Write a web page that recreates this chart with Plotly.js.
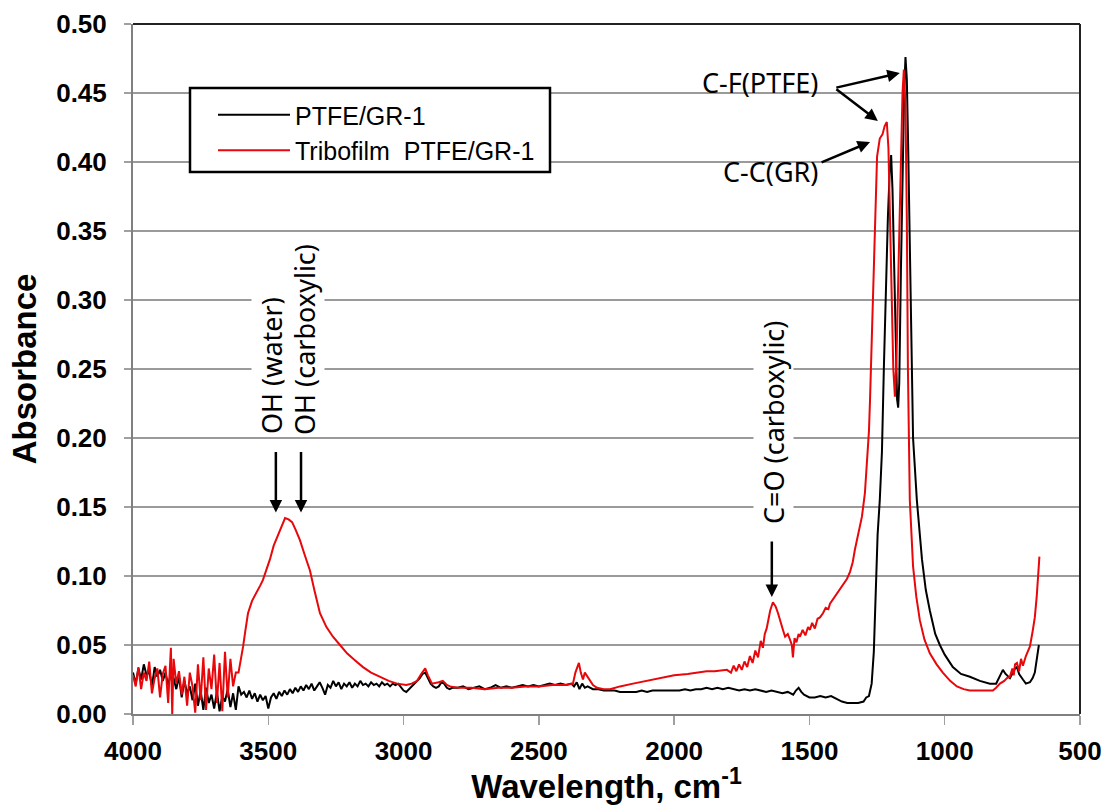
<!DOCTYPE html>
<html>
<head>
<meta charset="utf-8">
<script src="https://cdn.plot.ly/plotly-3.0.1.min.js"></script>
<style>html,body{margin:0;padding:0;background:#fff;}#chart{width:1113px;height:805px;}</style>
</head>
<body>
<div id="chart"></div>
<script>
// ---- Data (wavenumber cm-1, absorbance) ----
const ptfeX = [4000,3990,3980,3970,3960,3950,3940,3930,3920,3910,3900,3890,3880,3870,3860,3850,3840,3830,3820,3810,3800,3790,3780,3770,3760,3750,3740,3730,3720,3710,3700,3690,3680,3670,3660,3650,3640,3630,3620,3610,3600,
3590,3580,3570,3560,3550,3540,3530,3520,3510,3500,3490,3480,3470,3460,3450,3440,3430,3420,3410,3400,3390,3380,3370,3360,3350,3340,3330,3320,3310,3300,3290,3280,3270,3260,3250,3240,3230,3220,3210,3200,3190,3180,3170,3160,3150,3140,3130,3120,3110,3100,3090,3080,3070,3060,3050,3040,3030,3020,3010,3000,
2990,2980,2970,2960,2950,2940,2930,2920,2910,2900,2890,2880,2870,2860,2850,2840,2830,2820,2800,2780,2760,2740,2720,2700,2680,2660,2640,2620,2600,2580,2560,2540,2520,2500,2480,2460,2440,2420,2400,2380,2370,2360,2350,2340,2330,2320,2300,2280,2260,2240,2220,2200,2180,2160,2140,2120,2100,2080,2060,2040,2020,2000,1980,1960,1940,1920,1900,1880,1860,1840,1820,1800,1780,1760,1740,1720,1700,1680,1660,1640,1620,1600,1580,1560,1550,1540,1530,1520,1500,1480,1460,1440,1420,1400,1380,1360,1340,1320,1300,1290,1280,1270,
1262,1255,1248,1240,1232,1225,1218,1210,1203,1198,1193,1188,1182,1176,1172,1168,1162,1156,1150,1145,1140,1135,1129,1122,1117,1103,1084,1070,1055,1035,1018,1000,985,970,940,907,870,833,810,795,785,775,765,759,748,740,733,725,711,700,685,675,667,660,652];
const ptfeY = [0.030,0.022,0.033,0.025,0.036,0.028,0.031,0.020,0.034,0.027,0.032,0.024,0.030,0.021,0.029,0.026,0.018,0.027,0.012,0.024,0.015,0.020,0.010,0.022,0.006,0.017,0.003,0.019,0.008,0.014,0.004,0.016,0.002,0.013,0.009,0.018,0.005,0.015,0.003,0.020,0.014,
0.016,0.012,0.017,0.011,0.015,0.009,0.014,0.010,0.013,0.004,0.012,0.015,0.011,0.016,0.013,0.017,0.014,0.018,0.015,0.019,0.016,0.020,0.017,0.021,0.018,0.022,0.017,0.020,0.023,0.019,0.014,0.021,0.019,0.024,0.020,0.023,0.018,0.022,0.020,0.023,0.019,0.022,0.020,0.024,0.021,0.022,0.020,0.023,0.021,0.022,0.020,0.023,0.021,0.022,0.020,0.022,0.021,0.022,0.019,0.017,
0.016,0.018,0.020,0.022,0.024,0.026,0.029,0.030,0.026,0.022,0.020,0.019,0.020,0.023,0.022,0.019,0.018,0.019,0.019,0.020,0.018,0.019,0.020,0.018,0.019,0.021,0.019,0.020,0.019,0.020,0.021,0.020,0.021,0.020,0.021,0.022,0.021,0.022,0.021,0.022,0.020,0.023,0.018,0.022,0.019,0.020,0.018,0.018,0.017,0.017,0.017,0.016,0.016,0.016,0.016,0.017,0.016,0.017,0.017,0.017,0.017,0.017,0.017,0.018,0.017,0.018,0.018,0.019,0.018,0.019,0.018,0.019,0.018,0.017,0.018,0.017,0.018,0.017,0.016,0.017,0.016,0.015,0.016,0.014,0.017,0.019,0.016,0.014,0.012,0.012,0.013,0.012,0.013,0.011,0.009,0.008,0.008,0.008,0.009,0.012,0.013,0.022,
0.045,0.090,0.130,0.155,0.190,0.250,0.310,0.360,0.395,0.405,0.380,0.330,0.270,0.228,0.222,0.240,0.320,0.400,0.450,0.476,0.460,0.410,0.340,0.250,0.200,0.155,0.112,0.090,0.075,0.058,0.050,0.043,0.038,0.034,0.029,0.027,0.024,0.022,0.022,0.028,0.032,0.029,0.027,0.026,0.030,0.033,0.034,0.029,0.025,0.022,0.023,0.026,0.030,0.040,0.050];

const triboX = [4000,3990,3980,3970,3960,3950,3940,3930,3920,3910,3900,3890,3880,3870,3860,3855,3850,3840,3830,3820,3810,3800,3790,3780,3770,3760,3750,3740,3730,3720,3710,3700,3690,3680,3670,3660,3650,3640,3630,3620,3610,3600,3593,3585,3575,3560,3542,3530,3520,3505,3494,3480,3464,3450,3438,3425,3412,3400,3383,3365,3346,3330,3309,3285,3261,3235,3209,3180,3150,3120,3087,3055,3024,2990,2970,2950,2935,2920,2910,2895,2870,2855,2840,2828,2800,2750,2700,2650,2600,2550,2500,2450,2400,2374,2365,2352,2345,2337,2330,2320,2300,2285,2260,2237,2200,2152,2100,2050,2027,2000,1950,1905,1880,1850,1805,1790,1780,1770,1760,1750,1740,1730,1720,1710,1700,1690,1680,1672,1665,1658,1653,1645,1635,1625,1616,1607,1598,1590,1580,1572,1565,1561,1555,1548,1540,1535,1525,1515,1505,1498,1490,1480,1470,1461,1450,1440,1430,1424,1410,1400,1387,1375,1361,1350,1340,1332,1320,1306,1295,1288,1280,1276,1270,1265,1258,1250,1240,1230,1222,1214,1208,1203,1197,1190,1184,1178,1170,1162,1156,1151,1145,1140,1136,1129,1117,1105,1092,1075,1055,1030,1007,980,955,930,907,880,850,822,810,796,780,770,759,750,745,740,733,725,718,711,700,685,675,667,660,656,650];
const triboY = [0.028,0.020,0.034,0.018,0.030,0.024,0.038,0.015,0.026,0.033,0.012,0.029,0.035,0.008,0.048,0.000,0.040,0.022,0.031,0.014,0.027,0.006,0.030,0.020,0.001,0.036,0.010,0.041,0.003,0.033,0.018,0.043,0.008,0.037,0.002,0.045,0.012,0.040,0.020,0.030,0.030,0.040,0.049,0.060,0.073,0.082,0.088,0.093,0.097,0.105,0.112,0.122,0.130,0.137,0.142,0.141,0.139,0.134,0.126,0.115,0.104,0.090,0.073,0.063,0.056,0.050,0.044,0.039,0.034,0.030,0.027,0.024,0.022,0.021,0.022,0.024,0.029,0.033,0.028,0.022,0.023,0.024,0.021,0.020,0.019,0.019,0.018,0.019,0.019,0.020,0.020,0.021,0.021,0.022,0.030,0.037,0.030,0.025,0.030,0.027,0.021,0.019,0.018,0.018,0.020,0.022,0.024,0.026,0.027,0.028,0.029,0.030,0.031,0.031,0.032,0.030,0.035,0.031,0.036,0.032,0.038,0.034,0.042,0.037,0.046,0.041,0.053,0.048,0.058,0.062,0.068,0.075,0.081,0.078,0.073,0.066,0.061,0.056,0.058,0.054,0.050,0.041,0.055,0.052,0.058,0.056,0.061,0.057,0.063,0.061,0.066,0.062,0.069,0.070,0.073,0.077,0.076,0.080,0.084,0.086,0.090,0.094,0.098,0.103,0.110,0.119,0.130,0.143,0.160,0.179,0.205,0.228,0.265,0.300,0.350,0.404,0.417,0.420,0.426,0.429,0.410,0.370,0.310,0.250,0.230,0.260,0.330,0.410,0.450,0.467,0.440,0.360,0.250,0.155,0.107,0.085,0.068,0.054,0.044,0.036,0.030,0.024,0.020,0.018,0.017,0.017,0.017,0.017,0.019,0.022,0.024,0.026,0.027,0.033,0.028,0.036,0.037,0.031,0.040,0.035,0.042,0.049,0.060,0.070,0.085,0.095,0.114];

const seriesNames = ['PTFE/GR-1', 'Tribofilm  PTFE/GR-1'];
const xTicks = [4000, 3500, 3000, 2500, 2000, 1500, 1000, 500];
const yTicks = [0, 0.05, 0.10, 0.15, 0.20, 0.25, 0.30, 0.35, 0.40, 0.45, 0.50];

// annotation label anchors (wavenumber, absorbance)
const labels = [
  {text: 'C-F(PTFE)', x: 1166, y: 0.4645, ax: -65, ay: 15},
  {text: '', x: 1247, y: 0.4297, ax: -43, ay: -33},
  {text: 'C-C(GR)', x: 1276, y: 0.4145, ax: -50, ay: 21},
  {text: 'OH (water)', x: 3472, y: 0.146, ax: 0, ay: -62},
  {text: 'OH (carboxylic)', x: 3379, y: 0.146, ax: 0, ay: -62},
  {text: 'C=O (carboxylic)', x: 1639, y: 0.0848, ax: 0, ay: -57}
];

const traces = [
  {x: ptfeX, y: ptfeY, name: seriesNames[0], type: 'scatter', mode: 'lines', line: {color: '#000000', width: 2}},
  {x: triboX, y: triboY, name: seriesNames[1], type: 'scatter', mode: 'lines', line: {color: '#e8070a', width: 2}}
];

const annFont = {family: 'Noto Sans, Open Sans, sans-serif', size: 27, color: '#000'};
const annotations = [];
labels.forEach(l => {
  annotations.push({x: l.x, y: l.y, xref: 'x', yref: 'y', ax: l.ax, ay: l.ay, text: '', showarrow: true,
    arrowhead: 2, arrowsize: 1, arrowwidth: 2.5, arrowcolor: '#000', standoff: 0});
});
annotations.push({xref: 'paper', yref: 'paper', x: (760 - 133) / 947, y: (714 - 82) / 690, text: labels[0].text, showarrow: false, font: annFont, xanchor: 'center', yanchor: 'middle'});
annotations.push({xref: 'paper', yref: 'paper', x: (770 - 133) / 947, y: (714 - 171) / 690, text: labels[2].text, showarrow: false, font: annFont, xanchor: 'center', yanchor: 'middle'});
annotations.push({xref: 'paper', yref: 'paper', x: (271 - 133) / 947, y: (714 - 366) / 690, text: labels[3].text, showarrow: false, font: annFont, textangle: -90, bgcolor: '#fff', xanchor: 'center', yanchor: 'middle'});
annotations.push({xref: 'paper', yref: 'paper', x: (305 - 133) / 947, y: (714 - 340) / 690, text: labels[4].text, showarrow: false, font: annFont, textangle: -90, bgcolor: '#fff', xanchor: 'center', yanchor: 'middle'});
annotations.push({xref: 'paper', yref: 'paper', x: (773 - 133) / 947, y: (714 - 423) / 690, text: labels[5].text, showarrow: false, font: annFont, textangle: -90, bgcolor: '#fff', xanchor: 'center', yanchor: 'middle'});

const layout = {
  width: 1113, height: 805,
  margin: {l: 133, r: 33, t: 24, b: 91, pad: 0},
  paper_bgcolor: '#fff', plot_bgcolor: '#fff',
  showlegend: true,
  legend: {x: (213 - 133) / 947, y: (714 - 92) / 690, xanchor: 'left', yanchor: 'top',
    bgcolor: 'rgba(0,0,0,0)', borderwidth: 0,
    font: {family: 'Liberation Sans, Arial, sans-serif', size: 25, color: '#000'},
    itemwidth: 72, tracegroupgap: 6},
  xaxis: {range: [4000, 500], tickvals: xTicks, ticktext: xTicks.map(String),
    showgrid: false, zeroline: false, showline: true, linecolor: '#808080', linewidth: 2,
    ticks: 'outside', ticklen: 9, tickcolor: '#a0a0a0', tickwidth: 1.5,
    tickfont: {family: 'Liberation Sans, Arial, sans-serif', size: 26, color: '#000', weight: 'bold'},
    ticklabelstandoff: 4,
    title: {text: 'Wavelength, cm<sup>-1</sup>', font: {family: 'Liberation Sans, Arial, sans-serif', size: 33, color: '#000', weight: 'bold'}, standoff: 4}},
  yaxis: {range: [0, 0.5], tickvals: yTicks, ticktext: yTicks.map(v => v.toFixed(2)),
    showgrid: true, gridcolor: '#9a9a9a', gridwidth: 1.5, zeroline: false,
    showline: true, linecolor: '#808080', linewidth: 2,
    ticks: 'outside', ticklen: 7, tickcolor: '#a0a0a0', tickwidth: 1.5,
    tickfont: {family: 'Liberation Sans, Arial, sans-serif', size: 26, color: '#000', weight: 'bold'},
    ticklabelstandoff: 12,
    title: {text: 'Absorbance', font: {family: 'Liberation Sans, Arial, sans-serif', size: 33, color: '#000', weight: 'bold'}, standoff: 10}},
  shapes: [
    {type: 'line', xref: 'paper', yref: 'paper', x0: 0, x1: 1, y0: 1, y1: 1, line: {color: '#222', width: 2}},
    {type: 'line', xref: 'paper', yref: 'paper', x0: 1, x1: 1, y0: 0, y1: 1, line: {color: '#222', width: 2}},
    {type: 'rect', layer: 'above', xref: 'paper', yref: 'paper',
      x0: (190 - 133) / 947, x1: (550 - 133) / 947, y0: (714 - 172) / 690, y1: (714 - 88) / 690,
      fillcolor: '#fff', line: {color: '#000', width: 2.5}}
  ],
  annotations: annotations
};

Plotly.newPlot('chart', traces, layout, {displayModeBar: false, staticPlot: true});
</script>
</body>
</html>
